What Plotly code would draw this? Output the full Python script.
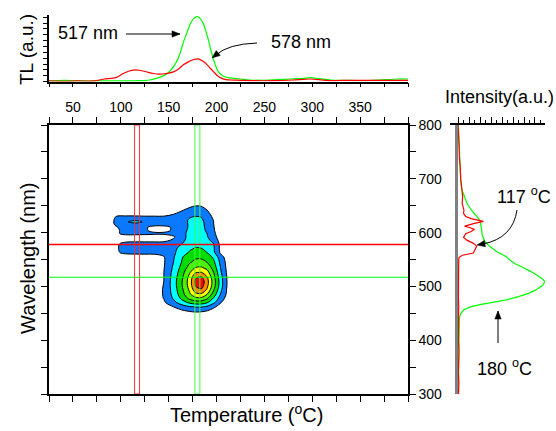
import math
import plotly.graph_objects as go

W, H = 556, 431
FONT = "Liberation Sans, Arial, sans-serif"


def px(x):
    return x / W


def py(y):
    return 1 - y / H


# ---------------- data ----------------
# TL glow curves (top panel)
tl_temp_green = [25, 41, 60, 80, 100, 120, 130, 137, 143, 148, 153, 158, 162, 165, 169, 172, 176,
                 180, 183, 186, 189, 191.5, 194, 197, 200, 202, 207, 212, 218, 225, 235, 250, 265,
                 277, 290, 298, 308, 319, 335, 354, 370, 389, 400]
tl_green = [1, 2, 1, 1, 1, 1.4, 2.5, 5, 8, 11.7, 19, 30, 44, 59, 75, 87, 97,
            100, 97, 90, 77, 64, 49, 33, 21, 15, 8.6, 6, 5, 4, 2.5, 2, 3,
            4, 5, 6, 4.5, 2.5, 2, 1.5, 2.5, 4, 4]
tl_temp_red = [25, 40, 55, 72, 83, 90, 95.5, 102, 108, 114.7, 119, 123, 128, 134, 140, 144, 150,
               155, 160, 165, 170, 176, 181, 185, 188, 192, 197, 201, 205.5, 210, 214, 225, 235,
               260, 280, 298, 310, 319, 340, 360, 389, 400]
tl_red = [1, 0.5, 1, 1, 4, 5, 6.5, 12, 16, 18, 17.5, 16.3, 14.5, 12.5, 11.5, 11.7, 13,
          15, 19, 25.5, 30, 34, 35, 32, 29, 23, 15, 9, 5, 3, 2.5, 2, 1.5,
          1.5, 2.5, 4, 2.5, 1.5, 2, 2, 2, 2]

# emission spectra (right panel)
spec_wl_green = [300, 330, 360, 400, 420, 437, 444, 450, 456, 462, 466, 471, 475, 481, 487, 493,
                 502, 509, 515, 521, 528, 536, 542, 549, 555, 565, 574, 583, 595, 605, 612, 622,
                 630, 642, 655, 667, 680, 698, 722, 740, 760, 780, 800]
spec_green = [0.3, 0.5, 0.3, 0.4, 0.6, 1.2, 1.5, 2.7, 5, 11, 20, 35, 44, 55, 64, 70.5,
              77, 79, 76, 71.5, 66, 58, 52, 47, 44, 35, 29, 24.5, 22, 21.5, 21, 20,
              17, 12, 8, 6, 3.5, 2.4, 2, 1.5, 1, 0.6, 0.3]
spec_wl_red = [300, 320, 340, 360, 380, 400, 420, 440, 460, 480, 500, 520, 540, 550, 554, 558,
               562, 568, 575, 580, 586, 591, 598, 602, 606, 609, 612, 617, 621, 626, 630, 636,
               642, 654, 667, 680, 698, 722, 740, 760, 780, 800]
spec_red = [0.5, 0.8, 0.3, 0.6, 0.8, 0.3, 0.5, 0.4, 0.6, 0.4, 0.3, 0.6, 0.5, 0.6, 1.0, 4,
            14, 15.5, 17, 14, 8, 5, 7, 12, 15, 11, 6, 15, 23, 12, 7, 5,
            5.4, 3.8, 4.2, 3.5, 2.5, 2, 1.2, 1, 0.5, 0]

# 2D TL map (temperature x wavelength), contour levels 1..7
map_temp = [85, 95, 105, 115, 125, 135, 145, 155, 165, 172, 178, 184, 190, 197, 205, 215]
map_wl = [445, 455, 462, 470, 478, 486, 494, 502, 510, 518, 526, 535, 545, 555, 563, 571, 579,
          586, 592, 598, 604, 610, 616, 620, 624, 630, 638, 650, 660]
map_z = [
    [0, 0, 0, 0, 0, 0, 0, 0, 0.1, 0.2, 0.3, 0.3, 0.2, 0.1, 0, 0],
    [0, 0, 0, 0, 0, 0, 0, 0.5, 0.95, 1.15, 1.25, 1.2, 1.05, 0.7, 0.3, 0],
    [0, 0, 0, 0, 0, 0, 0.5, 1.0, 1.6, 1.9, 2.05, 2.05, 1.8, 1.15, 0.6, 0],
    [0, 0, 0, 0, 0, 0.2, 0.85, 1.7, 2.6, 3.2, 3.5, 3.5, 3.1, 2.2, 1.0, 0.2],
    [0, 0, 0, 0, 0, 0.3, 1.05, 2.1, 3.4, 4.3, 4.75, 4.8, 4.2, 2.9, 1.4, 0.2],
    [0, 0, 0, 0, 0, 0.35, 1.1, 2.3, 3.8, 4.9, 5.75, 5.9, 5.1, 3.6, 1.8, 0.2],
    [0, 0, 0, 0, 0, 0.4, 1.1, 2.4, 4.0, 5.2, 6.6, 6.9, 5.9, 4.1, 2.1, 0.1],
    [0, 0, 0, 0, 0, 0.4, 1.05, 2.5, 4.15, 5.45, 7.1, 7.5, 6.3, 4.45, 2.3, 0.1],
    [0, 0, 0, 0, 0, 0.35, 1.0, 2.5, 4.15, 5.5, 7.2, 7.6, 6.4, 4.5, 2.3, 0.1],
    [0, 0, 0, 0, 0, 0.35, 1.0, 2.4, 4.0, 5.3, 6.8, 7.0, 6.0, 4.3, 2.2, 0.1],
    [0, 0, 0, 0, 0, 0.3, 1.0, 2.3, 3.8, 4.9, 5.9, 6.05, 5.4, 4.0, 2.0, 0.1],
    [0, 0, 0, 0, 0, 0.3, 0.95, 2.15, 3.5, 4.4, 5.0, 5.1, 4.7, 3.6, 1.8, 0.1],
    [0, 0, 0, 0, 0, 0.25, 0.9, 2.0, 3.2, 3.9, 4.25, 4.3, 4.0, 3.2, 1.6, 0.1],
    [0, 0.1, 0.3, 0.4, 0.45, 0.5, 0.95, 1.9, 3.0, 3.55, 3.8, 3.8, 3.5, 2.8, 1.3, 0.1],
    [0, 0.8, 1.3, 1.35, 1.35, 1.35, 1.4, 1.8, 2.65, 3.1, 3.35, 3.3, 3.0, 2.2, 0.7, 0],
    [0, 0.85, 1.4, 1.45, 1.45, 1.45, 1.45, 1.75, 2.4, 2.85, 3.05, 3.0, 2.75, 2.1, 0.6, 0],
    [0, 0.8, 1.35, 1.4, 1.4, 1.4, 1.4, 1.65, 2.05, 2.5, 2.75, 2.7, 2.5, 2.0, 0.6, 0],
    [0, 0.3, 0.6, 0.65, 0.65, 0.65, 0.7, 1.15, 1.85, 2.35, 2.55, 2.5, 2.3, 1.6, 0.5, 0],
    [0, 0.3, 0.4, 0.4, 0.4, 0.4, 0.45, 0.85, 1.8, 2.25, 2.45, 2.4, 2.1, 1.35, 0.4, 0],
    [0, 0.8, 1.3, 1.3, 1.25, 1.15, 1.15, 1.35, 1.85, 2.2, 2.35, 2.3, 2.0, 1.2, 0.35, 0],
    [0, 0.8, 1.35, 1.4, 1.1, 0.8, 0.8, 1.1, 1.8, 2.15, 2.3, 2.25, 1.9, 1.1, 0.3, 0],
    [0, 0.9, 1.45, 1.55, 1.1, 0.8, 0.8, 1.1, 1.75, 2.1, 2.25, 2.2, 1.85, 1.05, 0.3, 0],
    [0.2, 1.2, 1.6, 1.65, 1.5, 1.3, 1.3, 1.35, 1.75, 2.1, 2.25, 2.2, 1.8, 1.0, 0.2, 0],
    [0.2, 1.25, 1.85, 2.4, 1.85, 1.4, 1.35, 1.35, 1.75, 2.12, 2.28, 2.2, 1.75, 1.0, 0.2, 0],
    [0.2, 1.2, 1.6, 1.65, 1.5, 1.4, 1.35, 1.35, 1.7, 2.1, 2.25, 2.15, 1.6, 0.95, 0.2, 0],
    [0, 1.0, 1.1, 1.1, 1.05, 1.05, 1.05, 1.2, 1.6, 1.9, 2.02, 1.95, 1.45, 0.8, 0.1, 0],
    [0, 0.3, 0.3, 0.3, 0.3, 0.3, 0.35, 0.8, 1.15, 1.4, 1.55, 1.5, 1.15, 0.6, 0, 0],
    [0, 0, 0, 0, 0, 0, 0, 0.2, 0.6, 0.85, 0.98, 0.95, 0.7, 0.3, 0, 0],
    [0, 0, 0, 0, 0, 0, 0, 0, 0.1, 0.2, 0.3, 0.3, 0.2, 0, 0, 0],
]

# selected slices
slice_temps = [117, 180]          # red, green vertical bands
slice_wavelengths = [578, 517]    # red, green horizontal lines

# ticks
temp_major = list(range(50, 351, 50))
temp_minor = [25, 75, 125, 175, 225, 275, 325, 375, 400]
wl_major = list(range(300, 801, 100))
wl_minor = list(range(350, 751, 100))
int_ticks = list(range(0, 71, 10))
int_minor = list(range(5, 76, 10))

# ---------------- figure ----------------
RED = "#ff0000"
GREEN = "#00ff00"
band_colors = ["#ff3030", "#40ff40"]
line_colors = [RED, GREEN]

colorscale = [
    [0 / 7, "#ffffff"],
    [1 / 7, "#0a78ff"],
    [2 / 7, "#00ffff"],
    [3 / 7, "#00dc00"],
    [4 / 7, "#4cf000"],
    [5 / 7, "#ffff00"],
    [6 / 7, "#ff8c00"],
    [7 / 7, "#ff0000"],
]

fig = go.Figure()
fig.add_trace(go.Contour(
    x=map_temp, y=map_wl, z=map_z, xaxis="x", yaxis="y",
    contours=dict(start=1, end=7, size=1, coloring="fill"),
    line=dict(color="black", width=1, smoothing=1),
    colorscale=colorscale, showscale=False, hoverinfo="skip",
))
fig.add_trace(go.Scatter(x=tl_temp_green, y=tl_green, xaxis="x2", yaxis="y2", mode="lines",
                         line=dict(color=GREEN, width=1.2, shape="spline", smoothing=0.6)))
fig.add_trace(go.Scatter(x=tl_temp_red, y=tl_red, xaxis="x2", yaxis="y2", mode="lines",
                         line=dict(color=RED, width=1.2, shape="spline", smoothing=0.6)))
fig.add_trace(go.Scatter(x=spec_green, y=spec_wl_green, xaxis="x3", yaxis="y3", mode="lines",
                         line=dict(color=GREEN, width=1.2)))
fig.add_trace(go.Scatter(x=spec_red, y=spec_wl_red, xaxis="x3", yaxis="y3", mode="lines",
                         line=dict(color=RED, width=1.2)))

shapes = []
half_band = 2.6
for t, c in zip(slice_temps, band_colors):
    shapes.append(dict(type="rect", xref="x", yref="y", x0=t - half_band, x1=t + half_band,
                       y0=300, y1=800, line=dict(color=c, width=1), fillcolor="rgba(0,0,0,0)"))
for w, c in zip(slice_wavelengths, line_colors):
    shapes.append(dict(type="line", xref="x", yref="y", x0=25, x1=400, y0=w, y1=w,
                       line=dict(color=c, width=1.5 if c == RED else 1.2)))


def P(x, y):
    return "%.5f %.5f" % (px(x), py(y))


def curve(p0, c, p1):
    shapes.append(dict(type="path", xref="paper", yref="paper",
                       path="M %s Q %s %s" % (P(*p0), P(*c), P(*p1)),
                       line=dict(color="black", width=1)))


def head(hx, hy, fx, fy, L=8, w=3.2):
    # filled triangular arrow head at (hx,hy), pointing away from (fx,fy)
    dx, dy = hx - fx, hy - fy
    n = math.hypot(dx, dy)
    dx, dy = dx / n, dy / n
    bx, by = hx - L * dx, hy - L * dy
    p1 = (bx - w * dy, by + w * dx)
    p2 = (bx + w * dy, by - w * dx)
    shapes.append(dict(type="path", xref="paper", yref="paper",
                       path="M %s L %s L %s Z" % (P(hx, hy), P(*p1), P(*p2)),
                       fillcolor="black", line=dict(color="black", width=0.5)))


def straight(p0, p1):
    shapes.append(dict(type="line", xref="paper", yref="paper",
                       x0=px(p0[0]), y0=py(p0[1]), x1=px(p1[0]), y1=py(p1[1]),
                       line=dict(color="black", width=1)))
    head(p1[0], p1[1], p0[0], p0[1])


straight((126, 34), (180, 34))
straight((498, 343), (498, 311))
curve((257, 43), (228, 44), (216, 55))
head(212, 58, 222, 50)
curve((517, 210), (513, 238), (483, 244))
head(477, 245, 488, 243)

axis_common = dict(showgrid=False, zeroline=False, showline=True, linecolor="black",
                   tickcolor="black", automargin=False)
tickfont = dict(family=FONT, size=14, color="black")
minor_common = dict(tickmode="array", ticks="outside", tickcolor="black", showgrid=False)

fig.update_layout(
    width=W, height=H, margin=dict(l=0, r=0, t=0, b=0),
    paper_bgcolor="white", plot_bgcolor="white", showlegend=False,
    font=dict(family=FONT, color="black"),
    xaxis=dict(domain=[px(49), px(408)], range=[25, 400], anchor="y", side="top",
               tickmode="array", tickvals=temp_major,
               ticks="outside", ticklen=6, tickwidth=1.2, linewidth=1.5, mirror="ticks",
               minor=dict(tickvals=temp_minor, ticklen=6, tickwidth=1.2, **minor_common),
               tickfont=tickfont, **axis_common),
    yaxis=dict(domain=[py(394), py(125)], range=[300, 800], anchor="x", side="right",
               tickmode="array", tickvals=wl_major,
               ticks="outside", ticklen=6, tickwidth=1.2, linewidth=1.5, mirror="ticks",
               minor=dict(tickvals=wl_minor, ticklen=6, tickwidth=1.2, **minor_common),
               tickfont=tickfont, **axis_common),
    xaxis2=dict(domain=[px(49), px(408)], range=[25, 400], anchor="y2",
                tickmode="array", tickvals=temp_major, showticklabels=False,
                ticks="outside", ticklen=4, tickwidth=1, linewidth=1.5,
                minor=dict(tickvals=temp_minor, ticklen=4, tickwidth=1, **minor_common),
                **axis_common),
    yaxis2=dict(domain=[py(81.6), py(15)], range=[0, 102.5], anchor="x2",
                tick0=0, dtick=9, showticklabels=False,
                ticks="outside", ticklen=4, tickwidth=1, linewidth=1.5, **axis_common),
    xaxis3=dict(domain=[px(450), px(545)], range=[-7.3, 79.1], anchor="y3", side="top",
                tickmode="array", tickvals=int_ticks, showticklabels=False,
                ticks="outside", ticklen=6, tickwidth=1, linewidth=1.5,
                minor=dict(tickvals=int_minor, ticklen=3, tickwidth=1, **minor_common),
                **axis_common),
    yaxis3=dict(domain=[py(394), py(125)], range=[300, 800], anchor="free", position=px(456),
                showline=True, linecolor="#808080", linewidth=3, ticks="", showticklabels=False,
                showgrid=False, zeroline=False, automargin=False),
    shapes=shapes,
)

ann = []


def text(x, y, s, size, angle=0):
    ann.append(dict(x=px(x), y=py(y), xref="paper", yref="paper", text=s, showarrow=False,
                    textangle=angle, xanchor="center", yanchor="middle",
                    font=dict(family=FONT, size=size, color="black")))


text(26, 50, "TL (a.u.)", 19, -90)
text(28, 258, "Wavelength (nm)", 20, -90)
text(246, 413, "Temperature (<sup>o</sup>C)", 20)
text(499, 97, "Intensity(a.u.)", 18)
text(88, 33, "517 nm", 18)
text(301, 42, "578 nm", 18)
text(524, 195, "117 <sup>o</sup>C", 18)
text(504, 367, "180 <sup>o</sup>C", 18)
fig.update_layout(annotations=ann)

fig.write_html("out.html", config={"displayModeBar": False},
               post_script="document.body.style.margin='0px';"
                           "document.documentElement.style.overflow='hidden';")
